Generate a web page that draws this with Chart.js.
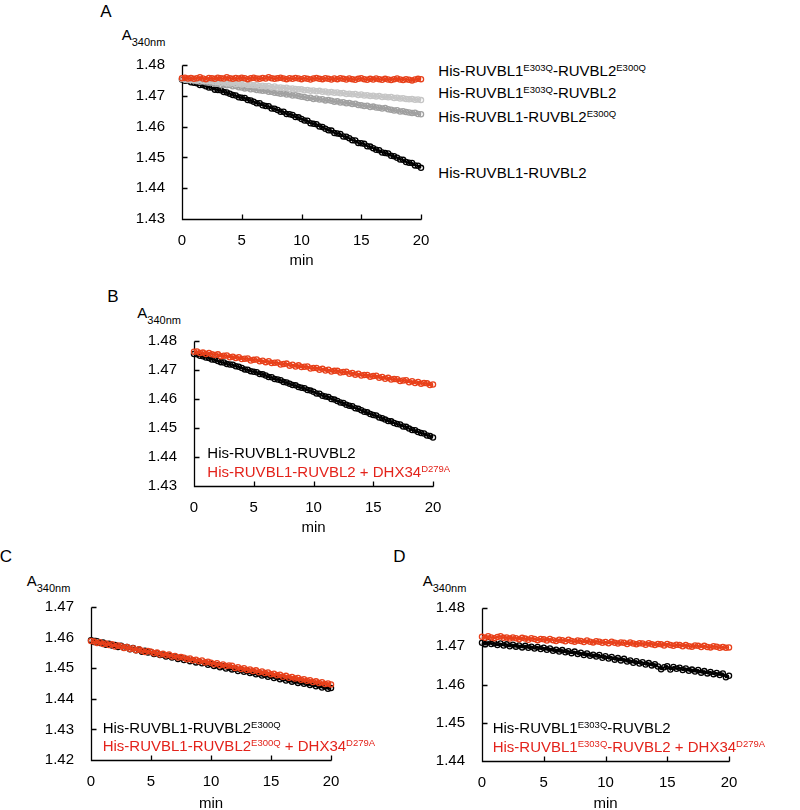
<!DOCTYPE html>
<html><head><meta charset="utf-8">
<script src="https://cdn.jsdelivr.net/npm/chart.js@4.4.1/dist/chart.umd.min.js"></script>
<style>
html,body{margin:0;padding:0;background:#fff;}
body{width:800px;height:810px;position:relative;overflow:hidden;font-family:"Liberation Sans",Arial,sans-serif;color:#000;}
canvas{position:absolute;}
.t{position:absolute;white-space:nowrap;font-size:15px;line-height:18px;transform:translateY(-50%);}
.c{transform:translate(-50%,-50%);}
.sp{font-size:9.5px;position:relative;top:-5px;}
.sb{font-size:11px;position:relative;top:6px;}
.red{color:#e3231b;}
.pl{font-size:17px;}
</style></head><body>
<script>
// ---------- data ----------
const times = [0,0.25,0.5,0.75,1,1.25,1.5,1.75,2,2.25,2.5,2.75,3,3.25,3.5,3.75,4,4.25,4.5,4.75,
5,5.25,5.5,5.75,6,6.25,6.5,6.75,7,7.25,7.5,7.75,8,8.25,8.5,8.75,9,9.25,9.5,9.75,
10,10.25,10.5,10.75,11,11.25,11.5,11.75,12,12.25,12.5,12.75,13,13.25,13.5,13.75,14,14.25,14.5,14.75,
15,15.25,15.5,15.75,16,16.25,16.5,16.75,17,17.25,17.5,17.75,18,18.25,18.5,18.75,19,19.25,19.5,19.75,20];
const xTicks = [0,5,10,15,20];
const yTicksA = [1.43,1.44,1.45,1.46,1.47,1.48];
const yTicksB = [1.43,1.44,1.45,1.46,1.47,1.48];
const yTicksC = [1.42,1.43,1.44,1.45,1.46,1.47];
const yTicksD = [1.44,1.45,1.46,1.47,1.48];

// Panel A
const A_E303Q_E300Q = [1.4757,1.4759,1.4756,1.4758,1.4755,1.4757,1.4760,1.4756,1.4754,1.4758,
1.4757,1.4755,1.4759,1.4757,1.4756,1.4760,1.4757,1.4755,1.4758,1.4756,
1.4759,1.4757,1.4754,1.4757,1.4759,1.4756,1.4755,1.4758,1.4756,1.4760,
1.4757,1.4755,1.4757,1.4759,1.4756,1.4754,1.4757,1.4755,1.4758,1.4756,
1.4754,1.4757,1.4755,1.4753,1.4756,1.4758,1.4755,1.4754,1.4757,1.4755,
1.4753,1.4756,1.4754,1.4757,1.4755,1.4753,1.4756,1.4754,1.4752,1.4755,
1.4757,1.4754,1.4752,1.4755,1.4753,1.4756,1.4754,1.4752,1.4755,1.4753,
1.4751,1.4754,1.4756,1.4753,1.4751,1.4754,1.4752,1.4750,1.4753,1.4755,
1.4754];
const A_E303Q_WT = [1.4755,1.4753,1.4754,1.4751,1.4752,1.4750,1.4751,1.4748,1.4749,1.4747,
1.4747,1.4744,1.4745,1.4742,1.4744,1.4741,1.4740,1.4742,1.4738,1.4740,
1.4737,1.4739,1.4735,1.4736,1.4734,1.4735,1.4732,1.4733,1.4731,1.4732,
1.4728,1.4730,1.4726,1.4727,1.4725,1.4726,1.4723,1.4724,1.4722,1.4721,
1.4721,1.4718,1.4719,1.4716,1.4717,1.4715,1.4716,1.4713,1.4714,1.4711,
1.4712,1.4710,1.4711,1.4708,1.4709,1.4706,1.4707,1.4705,1.4706,1.4703,
1.4704,1.4701,1.4702,1.4699,1.4700,1.4698,1.4699,1.4696,1.4697,1.4695,
1.4696,1.4693,1.4694,1.4691,1.4692,1.4690,1.4689,1.4690,1.4687,1.4688,
1.4686];
const A_WT_E300Q = [1.4755,1.4753,1.4751,1.4752,1.4749,1.4748,1.4746,1.4747,1.4744,1.4742,
1.4742,1.4739,1.4740,1.4736,1.4737,1.4734,1.4735,1.4731,1.4732,1.4728,
1.4727,1.4724,1.4725,1.4721,1.4722,1.4719,1.4718,1.4716,1.4717,1.4713,
1.4713,1.4710,1.4709,1.4707,1.4708,1.4704,1.4705,1.4701,1.4702,1.4699,
1.4697,1.4696,1.4693,1.4694,1.4690,1.4691,1.4688,1.4689,1.4685,1.4686,
1.4684,1.4681,1.4682,1.4678,1.4679,1.4676,1.4677,1.4673,1.4674,1.4670,
1.4669,1.4667,1.4668,1.4664,1.4665,1.4662,1.4661,1.4659,1.4660,1.4656,
1.4655,1.4652,1.4653,1.4649,1.4650,1.4647,1.4646,1.4644,1.4645,1.4641,
1.4640];
const A_WT_WT = [1.4753,1.4749,1.4750,1.4744, 1.4742,1.4741,1.4735,1.4735, 1.4731,1.4727,1.4727,1.4720,
1.4719,1.4718,1.4712,1.4711, 1.4707,1.4703,1.4701,1.4695, 1.4694,1.4693,1.4686,1.4685,
1.4681,1.4676,1.4676,1.4669, 1.4667,1.4666,1.4659,1.4658, 1.4654,1.4648,1.4648,1.4641,
1.4640,1.4638,1.4631,1.4630, 1.4625,1.4620,1.4619,1.4611, 1.4609,1.4608,1.4600,1.4599,
1.4593,1.4588,1.4587,1.4579, 1.4578,1.4576,1.4568,1.4567, 1.4562,1.4556,1.4555,1.4547,
1.4546,1.4544,1.4536,1.4535, 1.4530,1.4525,1.4523,1.4516, 1.4514,1.4513,1.4505,1.4504,
1.4499,1.4493,1.4492,1.4485, 1.4483,1.4482,1.4474,1.4473, 1.4466];

// Panel B
const B_WT = [1.4755,1.4754,1.4749,1.4747, 1.4743,1.4741,1.4736,1.4735, 1.4731,1.4727,1.4726,1.4721,
1.4719,1.4718,1.4713,1.4711, 1.4707,1.4702,1.4701,1.4696, 1.4694,1.4692,1.4686,1.4685,
1.4681,1.4676,1.4675,1.4669, 1.4667,1.4665,1.4659,1.4657, 1.4653,1.4648,1.4647,1.4641,
1.4639,1.4637,1.4631,1.4629, 1.4625,1.4619,1.4618,1.4611, 1.4609,1.4607,1.4600,1.4598,
1.4593,1.4588,1.4586,1.4580, 1.4577,1.4575,1.4568,1.4566, 1.4561,1.4556,1.4554,1.4548,
1.4545,1.4543,1.4536,1.4534, 1.4529,1.4524,1.4523,1.4517, 1.4514,1.4512,1.4505,1.4504,
1.4498,1.4493,1.4492,1.4486, 1.4483,1.4481,1.4474,1.4472, 1.4467];
const B_WT_DHX = [1.4763,1.4764,1.4759,1.4760,1.4755,1.4759,1.4754,1.4752,1.4754,1.4747,
1.4749,1.4750,1.4744,1.4746,1.4741,1.4744,1.4738,1.4739,1.4740,1.4733,
1.4735,1.4736,1.4730,1.4732,1.4727,1.4730,1.4724,1.4725,1.4726,1.4719,
1.4721,1.4722,1.4715,1.4718,1.4712,1.4716,1.4710,1.4711,1.4712,1.4705,
1.4707,1.4707,1.4701,1.4704,1.4698,1.4701,1.4695,1.4697,1.4697,1.4691,
1.4693,1.4694,1.4687,1.4690,1.4684,1.4687,1.4681,1.4683,1.4683,1.4677,
1.4679,1.4680,1.4673,1.4676,1.4670,1.4673,1.4667,1.4669,1.4668,1.4662,
1.4664,1.4665,1.4658,1.4661,1.4655,1.4659,1.4653,1.4655,1.4654,1.4648,
1.4650];

// Panel C
const C_E300Q = [1.4591,1.4586,1.4588,1.4582,1.4584,1.4577,1.4580,1.4574,1.4576,1.4569,
1.4573,1.4567,1.4569,1.4562,1.4566,1.4559,1.4561,1.4554,1.4557,1.4551,
1.4553,1.4546,1.4549,1.4543,1.4545,1.4538,1.4541,1.4535,1.4538,1.4530,
1.4534,1.4527,1.4530,1.4523,1.4526,1.4519,1.4522,1.4516,1.4518,1.4511,
1.4514,1.4507,1.4510,1.4503,1.4506,1.4499,1.4502,1.4496,1.4498,1.4491,
1.4495,1.4488,1.4491,1.4484,1.4487,1.4480,1.4483,1.4476,1.4479,1.4472,
1.4475,1.4468,1.4471,1.4464,1.4467,1.4460,1.4463,1.4456,1.4459,1.4452,
1.4456,1.4449,1.4452,1.4445,1.4448,1.4441,1.4444,1.4437,1.4440,1.4433,
1.4435];
const C_E300Q_DHX = [1.4589,1.4587,1.4582,1.4585,1.4579,1.4581,1.4576,1.4578,1.4571,1.4574,
1.4572,1.4566,1.4569,1.4563,1.4565,1.4559,1.4562,1.4557,1.4553,1.4556,
1.4554,1.4549,1.4551,1.4545,1.4547,1.4542,1.4545,1.4538,1.4540,1.4535,
1.4537,1.4534,1.4529,1.4532,1.4526,1.4528,1.4523,1.4525,1.4519,1.4521,
1.4518,1.4513,1.4516,1.4510,1.4512,1.4507,1.4509,1.4508,1.4501,1.4503,
1.4497,1.4500,1.4494,1.4496,1.4491,1.4493,1.4487,1.4489,1.4484,1.4486,
1.4480,1.4482,1.4477,1.4479,1.4472,1.4475,1.4469,1.4471,1.4466,1.4468,
1.4462,1.4464,1.4459,1.4461,1.4455,1.4457,1.4452,1.4454,1.4448,1.4450,
1.4447];

// Panel D
const D_E303Q = [1.4709,1.4705,1.4711,1.4706, 1.4708,1.4703,1.4707,1.4702, 1.4705,1.4700,1.4704,1.4699,
1.4702,1.4697,1.4701,1.4696, 1.4699,1.4694,1.4698,1.4693, 1.4696,1.4691,1.4694,1.4688,
1.4691,1.4686,1.4690,1.4684, 1.4687,1.4682,1.4686,1.4680, 1.4683,1.4677,1.4681,1.4675,
1.4678,1.4673,1.4677,1.4670, 1.4674,1.4668,1.4672,1.4665, 1.4669,1.4663,1.4667,1.4660,
1.4663,1.4657,1.4661,1.4655, 1.4658,1.4652,1.4656,1.4650, 1.4653,1.4647,1.4640,1.4645,
1.4648,1.4639,1.4646,1.4641, 1.4644,1.4638,1.4642,1.4636, 1.4639,1.4634,1.4638,1.4631,
1.4635,1.4629,1.4633,1.4627, 1.4630,1.4625,1.4629,1.4619, 1.4623];
const D_E303Q_DHX = [1.4725,1.4722,1.4726,1.4723,1.4721,1.4724,1.4726,1.4722,1.4723,1.4720,
1.4723,1.4721,1.4718,1.4722,1.4720,1.4717,1.4721,1.4719,1.4716,1.4719,
1.4718,1.4715,1.4719,1.4716,1.4714,1.4717,1.4716,1.4713,1.4717,1.4714,
1.4712,1.4715,1.4714,1.4711,1.4715,1.4712,1.4710,1.4713,1.4712,1.4709,
1.4711,1.4708,1.4712,1.4709,1.4707,1.4710,1.4709,1.4706,1.4710,1.4707,
1.4705,1.4708,1.4707,1.4704,1.4708,1.4705,1.4703,1.4706,1.4705,1.4702,
1.4706,1.4703,1.4701,1.4704,1.4703,1.4700,1.4703,1.4700,1.4699,1.4702,
1.4701,1.4698,1.4701,1.4698,1.4697,1.4700,1.4699,1.4696,1.4698,1.4696,
1.4697];

// ---------- drawing ----------
const RED='#e8401a', LGRAY='#c6c6c6', DGRAY='#a0a0a0', BLACK='#000000';
const XH=40, YW=60, PT=10, PR=10;
Chart.defaults.font.family='"Liberation Sans", Arial, sans-serif';
Chart.defaults.font.size=15;
Chart.defaults.color='#000';

const axisPlug={id:'axes', beforeDatasetsDraw(ch){
  const {ctx,chartArea:a,scales:{x,y}}=ch;
  ctx.save(); ctx.strokeStyle='#000'; ctx.lineWidth=1.3; ctx.beginPath();
  const lx=Math.round(a.left)+0.5, by=Math.round(a.bottom)+0.5;
  ctx.moveTo(lx, Math.round(y.getPixelForValue(y.max))+0.5); ctx.lineTo(lx,by); ctx.lineTo(Math.round(a.right)+0.5,by);
  y.ticks.forEach(t=>{const py=Math.round(y.getPixelForValue(t.value))+0.5; ctx.moveTo(lx,py); ctx.lineTo(lx+5,py);});
  x.ticks.forEach(t=>{const px=Math.round(x.getPixelForValue(t.value))+0.5; ctx.moveTo(px,by); ctx.lineTo(px,by-5);});
  ctx.stroke(); ctx.restore();
}};

function panel(cfg){
  const cv=document.createElement('canvas');
  const w=YW+(cfg.R-cfg.L)+PR, h=PT+(cfg.B-cfg.T)+XH;
  cv.width=w; cv.height=h;
  cv.style.left=(cfg.L-YW)+'px'; cv.style.top=(cfg.T-PT)+'px';
  cv.style.width=w+'px'; cv.style.height=h+'px';
  document.body.appendChild(cv);
  new Chart(cv,{type:'scatter',
    data:{datasets:cfg.series.map(s=>({
      data:times.map((t,i)=>({x:t,y:s.v[i]})),
      borderColor:s.c, backgroundColor:'rgba(0,0,0,0)',
      pointBorderColor:s.c, pointBackgroundColor:'rgba(0,0,0,0)',
      pointRadius:2.6, pointBorderWidth:1.3, showLine:true, borderWidth:2, clip:false}))},
    options:{responsive:false, animation:false, devicePixelRatio:1, events:[],
      layout:{padding:{left:0,right:PR,top:PT,bottom:0}},
      plugins:{legend:{display:false},tooltip:{enabled:false}},
      scales:{
        x:{type:'linear',min:0,max:20,
          afterBuildTicks:s=>{s.ticks=xTicks.map(v=>({value:v}));},
          afterFit:s=>{s.height=XH;s.paddingLeft=0;s.paddingRight=0;},
          grid:{display:false,drawTicks:false}, border:{display:false},
          ticks:{padding:13,maxRotation:0,autoSkip:false,color:'#000'}},
        y:{type:'linear',min:cfg.yt[0],max:cfg.yt[cfg.yt.length-1],
          afterBuildTicks:s=>{s.ticks=cfg.yt.map(v=>({value:v}));},
          afterFit:s=>{s.width=YW;s.paddingTop=0;s.paddingBottom=0;},
          grid:{display:false,drawTicks:false}, border:{display:false},
          ticks:{padding:17,color:'#000',callback:v=>Number(v).toFixed(2)}}
      }},
    plugins:[axisPlug]});
}

panel({L:182,R:421,T:65,B:219,yt:yTicksA,series:[
  {v:A_E303Q_E300Q,c:RED},{v:A_E303Q_WT,c:LGRAY},{v:A_WT_E300Q,c:DGRAY},{v:A_WT_WT,c:BLACK}]});
panel({L:194,R:433,T:341,B:486,yt:yTicksB,series:[
  {v:B_WT_DHX,c:RED},{v:B_WT,c:BLACK}]});
panel({L:91,R:331,T:607,B:760,yt:yTicksC,series:[
  {v:C_E300Q_DHX,c:RED},{v:C_E300Q,c:BLACK}]});
panel({L:482,R:729,T:608,B:761,yt:yTicksD,series:[
  {v:D_E303Q_DHX,c:RED},{v:D_E303Q,c:BLACK}]});

// ---------- text ----------
function txt(html,x,y,cls){const d=document.createElement('div');d.className='t '+(cls||'');d.innerHTML=html;d.style.left=x+'px';d.style.top=y+'px';document.body.appendChild(d);}
const yTitle='A<span class="sb">340nm</span>';
// panel letters
txt('A',106,12,'c pl'); txt('B',113,297,'c pl'); txt('C',6,557,'c pl'); txt('D',399.5,557,'c pl');
// y titles
txt(yTitle,121.7,35); txt(yTitle,137.3,313.3); txt(yTitle,26.7,581); txt(yTitle,422.7,581);
// x titles
txt('min',301.5,260,'c'); txt('min',313.5,527,'c'); txt('min',211,803,'c'); txt('min',605.5,803,'c');
// legends A
txt('His-RUVBL1<span class="sp">E303Q</span>-RUVBL2<span class="sp">E300Q</span>',438.3,71.7);
txt('His-RUVBL1<span class="sp">E303Q</span>-RUVBL2',438.3,94.3);
txt('His-RUVBL1-RUVBL2<span class="sp">E300Q</span>',438.3,117.7);
txt('His-RUVBL1-RUVBL2',438.3,173.3);
// legend B
txt('His-RUVBL1-RUVBL2',207.3,453);
txt('His-RUVBL1-RUVBL2 + DHX34<span class="sp">D279A</span>',207.3,472.7,'red');
// legend C
txt('His-RUVBL1-RUVBL2<span class="sp">E300Q</span>',102.7,729.3);
txt('His-RUVBL1-RUVBL2<span class="sp">E300Q</span> + DHX34<span class="sp">D279A</span>',102.7,746.7,'red');
// legend D
txt('His-RUVBL1<span class="sp">E303Q</span>-RUVBL2',492.7,729.3);
txt('His-RUVBL1<span class="sp">E303Q</span>-RUVBL2 + DHX34<span class="sp">D279A</span>',492.7,747.7,'red');
</script>
</body></html>
